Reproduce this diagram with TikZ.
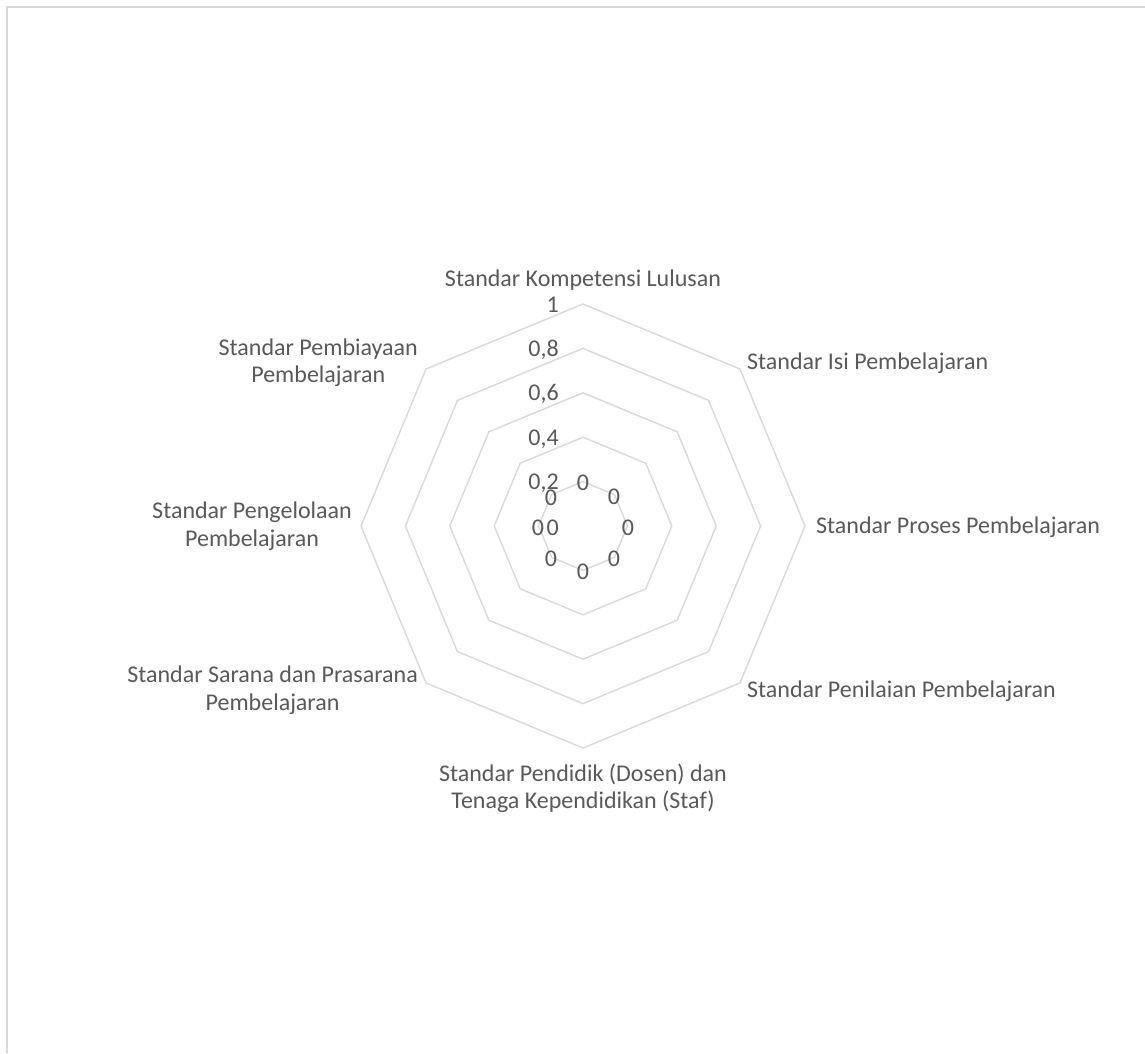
\documentclass[tikz,border=0pt]{standalone}
\usepackage{fontspec}
\setmainfont{Carlito}
\usetikzlibrary{calc}
\definecolor{txt}{HTML}{595959}
\definecolor{grid}{HTML}{D9D9D9}
\begin{document}
\begin{tikzpicture}[x=1pt,y=-1pt,
  lab/.style={text=txt,font=\fontsize{24}{27.5}\selectfont,inner sep=0pt,align=center},
  ring/.style={draw=grid,line width=1.4pt,line join=miter},
  frame/.style={draw=grid,line width=1.6pt}]
\useasboundingbox (0,0) rectangle (1145,1053);
\fill[white] (0,0) rectangle (1145,1053);
\draw[frame] (7,1053) -- (7,7) -- (1145,7);
\coordinate (c) at (583,526);
\foreach \f in {0.2,0.4,0.6,0.8,1} {
  \draw[ring] ($(c)+(90:{222*\f})$) \foreach \a in {45,0,-45,-90,-135,-180,-225} { -- ($(c)+(\a:{222*\f})$) } -- cycle;
}
% axis values
\node[lab,anchor=east] (v10) at (559,305) {1};
\node[lab,anchor=east] (v08) at (559,350) {0,8};
\node[lab,anchor=east] (v06) at (559,394) {0,6};
\node[lab,anchor=east] (v04) at (559,439) {0,4};
\node[lab,anchor=east] (v02) at (559,483) {0,2};
\node[lab,anchor=east] (v00) at (559,528) {0};
% data labels
\node[lab] (d1) at (583,483) {0};
\node[lab] (d2) at (614,497) {0};
\node[lab] (d3) at (628,528) {0};
\node[lab] (d4) at (614,559) {0};
\node[lab] (d5) at (583,572) {0};
\node[lab] (d6) at (551,559) {0};
\node[lab] (d7) at (538,528) {0};
\node[lab] (d8) at (551,498) {0};
% categories
\node[lab] (k1) at (583,280) {Standar Kompetensi Lulusan};
\node[lab,anchor=west] (k2) at (747,363) {Standar Isi Pembelajaran};
\node[lab,anchor=west] (k3) at (816,527) {Standar Proses Pembelajaran};
\node[lab,anchor=west] (k4) at (747,691) {Standar Penilaian Pembelajaran};
\node[lab] (k5) at (583,788.5) {Standar Pendidik (Dosen) dan\\Tenaga Kependidikan (Staf)};
\node[lab,anchor=east] (k6) at (418,690) {Standar Sarana dan Prasarana\\Pembelajaran};
\node[lab,anchor=east] (k7) at (352,526) {Standar Pengelolaan\\Pembelajaran};
\node[lab,anchor=east] (k8) at (418,362.5) {Standar Pembiayaan\\Pembelajaran};
\end{tikzpicture}
\end{document}
